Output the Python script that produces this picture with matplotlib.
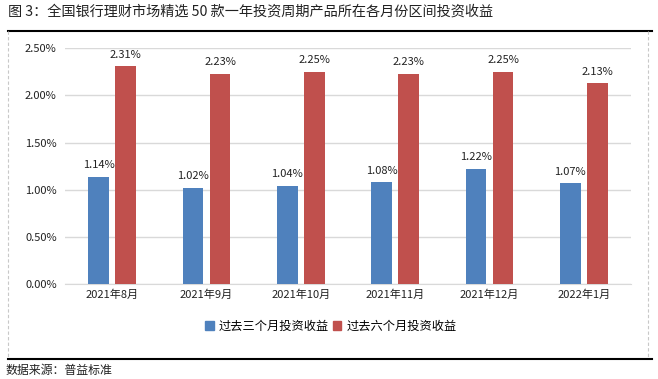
import matplotlib
matplotlib.use("Agg")
import matplotlib.pyplot as plt
from matplotlib.lines import Line2D
from matplotlib.patches import Patch
import numpy as np

plt.rcParams['font.family'] = ['Noto Sans CJK SC', 'DejaVu Sans']

categories = ["2021年8月", "2021年9月", "2021年10月", "2021年11月", "2021年12月", "2022年1月"]
three_month = [1.14, 1.02, 1.04, 1.08, 1.22, 1.07]
six_month = [2.31, 2.23, 2.25, 2.23, 2.25, 2.13]
series_names = ["过去三个月投资收益", "过去六个月投资收益"]
yticks = [0.0, 0.5, 1.0, 1.5, 2.0, 2.5]
title = "图 3：全国银行理财市场精选 50 款一年投资周期产品所在各月份区间投资收益"
source = "数据来源：普益标准"

blue = "#4F81BD"
red = "#C0504D"

fig = plt.figure(figsize=(6.58, 3.79), dpi=100)
ax = fig.add_axes([65/658, 1-284/379, 566/658, (284-48.3)/379])

x = np.arange(len(categories))
w = 0.22
off = 0.143
ax.bar(x - off, three_month, w, color=blue, zorder=3)
ax.bar(x + off, six_month, w, color=red, zorder=3)

for xi, v in zip(x, three_month):
    ax.text(xi - off, v + 0.07, f"{v:.2f}%", ha="center", va="bottom", fontsize=8, color="#222222")
for xi, v in zip(x, six_month):
    ax.text(xi + off, v + 0.07, f"{v:.2f}%", ha="center", va="bottom", fontsize=8, color="#222222")

ax.set_xlim(-0.5, len(categories) - 0.5)
ax.set_ylim(0, 2.5)
ax.set_yticks(yticks)
ax.set_yticklabels([f"{t:.2f}%" for t in yticks], fontsize=8, color="#222222")
ax.set_xticks(x)
ax.set_xticklabels(categories, fontsize=8, color="#222222")
ax.tick_params(length=0, pad=6)
ax.tick_params(axis='x', pad=4)
ax.yaxis.grid(True, color="#D9D9D9", linewidth=1, zorder=0)
for s in ["top", "right", "left"]:
    ax.spines[s].set_visible(False)
ax.spines["bottom"].set_color("#D9D9D9")

handles = [Patch(color=blue), Patch(color=red)]
fig.legend(handles, series_names, loc="center", bbox_to_anchor=(331/658, 1-326/379),
           ncol=2, frameon=False, fontsize=8.8, handlelength=0.7, handleheight=0.7,
           handletextpad=0.4, columnspacing=0.3)

fig.text(8/658, 1-12/379, title, fontsize=10.2, va="center", ha="left", color="#222222")
fig.text(6/658, 1-370/379, source, fontsize=8.6, va="center", ha="left", color="#222222")

fig.add_artist(Line2D([8/658, 652/658], [1-31/379, 1-31/379], color="black", linewidth=1.5))
fig.add_artist(Line2D([8/658, 652/658], [1-359/379, 1-359/379], color="black", linewidth=1.5))
fig.add_artist(Line2D([8/658, 8/658], [1-31/379, 1-358/379], color="#C8C8C8", linewidth=0.8, linestyle=(0, (3, 2))))
fig.add_artist(Line2D([648/658, 648/658], [1-31/379, 1-358/379], color="#C8C8C8", linewidth=0.8, linestyle=(0, (3, 2))))

fig.savefig("out.png", dpi=100)
